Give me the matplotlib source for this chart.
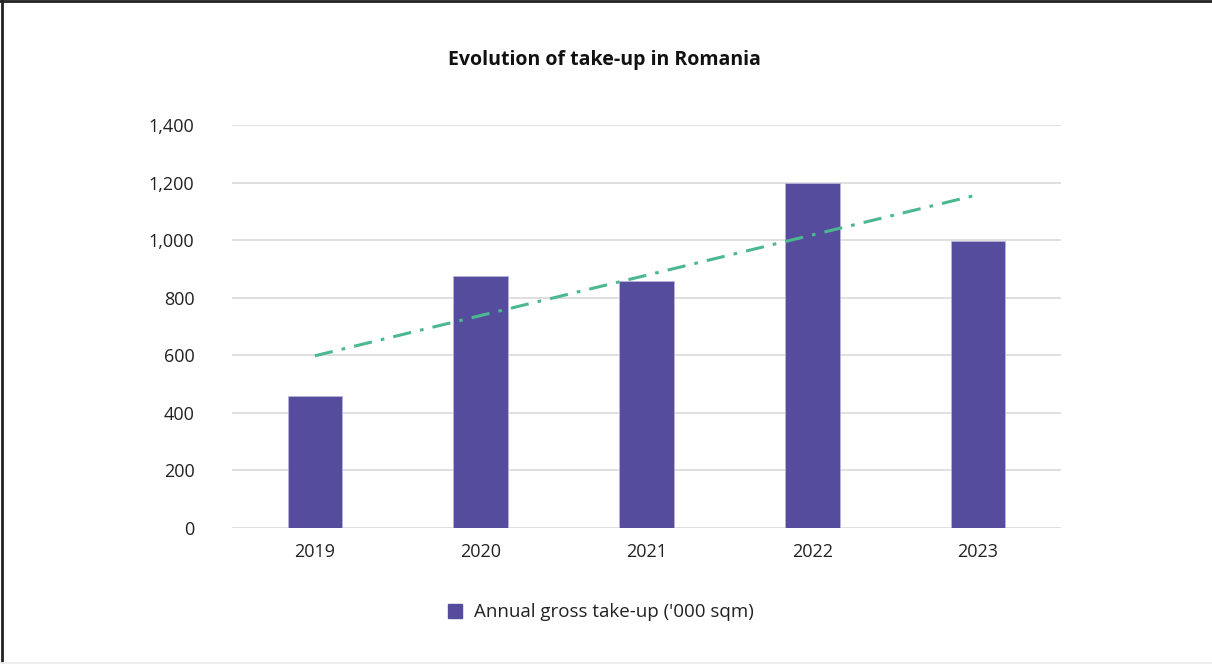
import numpy as np
import matplotlib
matplotlib.use('Agg')
import matplotlib.pyplot as plt
from matplotlib.lines import Line2D

plt.rcParams['font.family'] = ['Open Sans', 'DejaVu Sans']

years = ['2019', '2020', '2021', '2022', '2023']
take_up = [460, 875, 858, 1200, 997]
y_ticks = [0, 200, 400, 600, 800, 1000, 1200, 1400]

bar_color = '#554c9e'
trend_color = '#4cb890'

fig = plt.figure(figsize=(12.12, 6.64), dpi=100)
fig.patch.set_facecolor('white')
ax = fig.add_axes([0.1914, 0.2048, 0.684, 0.607])

x = np.arange(len(years))
ax.bar(x, take_up, width=0.33, color=bar_color, edgecolor='#b9b3dc',
       linewidth=0.6, zorder=3)

# linear trend across the years
coef = np.polyfit(x, take_up, 1)
ax.plot(x, np.polyval(coef, x), color=trend_color, linewidth=2.2,
        linestyle=(0, (6, 3, 1.2, 3)), zorder=4)

ax.set_xlim(-0.5, len(years) - 0.5)
ax.set_ylim(0, 1400)
ax.set_yticks(y_ticks)
ax.set_yticklabels([f'{v:,}' for v in y_ticks])
ax.set_xticks(x)
ax.set_xticklabels(years)
ax.tick_params(axis='y', length=0, pad=27, labelsize=13, colors='#222222')
ax.tick_params(axis='x', length=0, pad=11, labelsize=13, colors='#222222')
ax.grid(axis='y', color='#d9d9d9', linewidth=1.2, zorder=0)
ax.set_axisbelow(True)
for s in ax.spines.values():
    s.set_visible(False)

fig.text(0.4985, 0.909, 'Evolution of take-up in Romania', ha='center',
         va='center', fontsize=14, fontweight='bold', color='#111111')

handle = Line2D([], [], marker='s', linestyle='none', markersize=10,
                markerfacecolor=bar_color, markeredgecolor=bar_color)
fig.legend([handle], ["Annual gross take-up ('000 sqm)"], loc='center',
           bbox_to_anchor=(0.491, 0.078), frameon=False, fontsize=13.5,
           handletextpad=0.05, labelcolor='#222222')

# outer frame: dark on left and top, faint at the bottom
fig.add_artist(Line2D([0.0015, 0.0015], [0, 1], transform=fig.transFigure,
                      color='#222222', linewidth=2))
fig.add_artist(Line2D([0, 1], [0.9985, 0.9985], transform=fig.transFigure,
                      color='#222222', linewidth=2))
fig.add_artist(Line2D([0, 1], [0.002, 0.002], transform=fig.transFigure,
                      color='#eeeeee', linewidth=2))

fig.savefig('out.png', dpi=100, facecolor='white')
